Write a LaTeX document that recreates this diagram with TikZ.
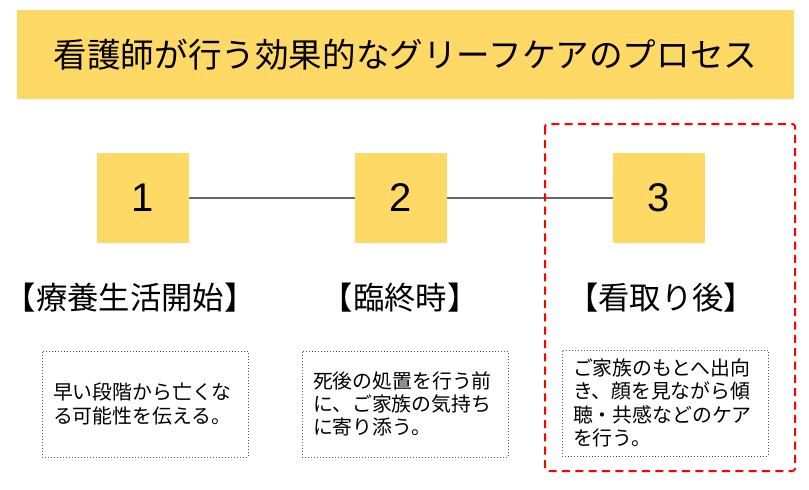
\documentclass[tikz,border=0pt]{standalone}
\usepackage{fontspec}
\setmainfont{Liberation Sans}
\newfontfamily\jpfont{Noto Sans CJK JP}
\definecolor{processgold}{HTML}{FFD966}
\definecolor{processline}{HTML}{666666}
\definecolor{processred}{HTML}{FF0000}
\definecolor{processdots}{HTML}{555555}

\begin{document}
\begin{tikzpicture}[
  x=0.75pt,
  y=-0.75pt,
  every node/.style={text=black},
  titlebox/.style={fill=processgold, inner sep=0pt,
                   minimum width=582.75pt, minimum height=66.75pt,
                   font=\jpfont\fontsize{25.2}{29}\selectfont},
  stepbox/.style={fill=processgold, inner sep=0pt,
                  minimum width=69pt, minimum height=67.5pt,
                  font=\fontsize{30}{34}\selectfont},
  linkline/.style={processline, line width=1.5pt},
  phase/.style={inner sep=0pt, font=\jpfont\fontsize{23.5}{27}\selectfont},
  notebox/.style={draw=processdots, line width=0.75pt,
                  dash pattern=on 0.75pt off 1.5pt,
                  minimum width=154.5pt, minimum height=79.5pt,
                  inner xsep=8.25pt, text width=138pt, align=left,
                  font=\jpfont\fontsize{14.9}{17.5}\selectfont},
  focusbox/.style={processred, line width=1.5pt,
                   dash pattern=on 6pt off 4pt, rounded corners=2pt}
]
  \useasboundingbox (0,0) rectangle (809,489);

  % ---- title ----
  \node[titlebox] (title) at (405.5,54.5)
    {看護師が行う効果的なグリーフケアのプロセス\hspace{6pt}};

  % ---- the three steps ----
  \node[stepbox] (step1) at (143,198) {1};
  \node[stepbox] (step2) at (401,198) {2};
  \node[stepbox] (step3) at (659,198) {3};
  \draw[linkline] (step1) -- (step2);
  \draw[linkline] (step2) -- (step3);

  % ---- phase names ----
  \node[phase] (phase1) at (130,298) {【療養生活開始】};
  \node[phase] (phase2) at (400,298) {【臨終時】};
  \node[phase] (phase3) at (661,298) {【看取り後】};

  % ---- notes ----
  \node[notebox] (note1) at (145,404)
    {早い段階から亡くな\\る可能性を伝える。};
  \node[notebox] (note2) at (405,404)
    {死後の処置を行う前\\に、ご家族の気持ち\\に寄り添う。};
  \node[notebox] (note3) at (665,403)
    {ご家族のもとへ出向\\き、顔を見ながら傾\\聴・共感などのケア\\を行う。};

  % ---- highlight of the last step ----
  \draw[focusbox] (545,124) rectangle (795,471);
\end{tikzpicture}
\end{document}
